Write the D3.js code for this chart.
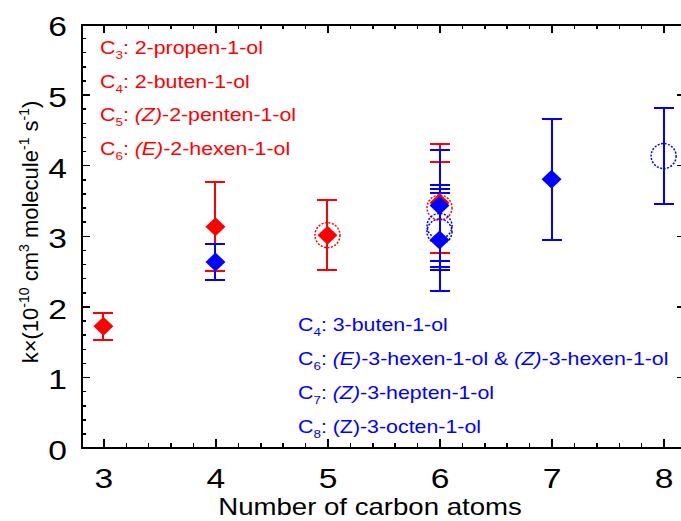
<!DOCTYPE html>
<html>
<head>
<meta charset="utf-8">
<script src="https://cdn.jsdelivr.net/npm/d3@7"></script>
<style>
  body { margin: 0; background: #fff; }
  svg { font-family: Arial, "Liberation Sans", sans-serif; }
</style>
</head>
<body>
<div id="chart"></div>
<script>
// x ticks and y ticks
var xTicks = [3, 4, 5, 6, 7, 8];
var yTicks = [0, 1, 2, 3, 4, 5, 6];

// red: 2-en-1-ols (diamonds and dotted circles)
var redDiamondX = [3, 4, 5, 6];
var redDiamondY = [1.72, 3.13, 3.01, 3.47];
var redDiamondErr = [0.19, 0.63, 0.50, 0.83];
var redCircleX = [5, 6];
var redCircleY = [3.01, 3.40];
var redCircleErr = [0.50, 0.64];

// blue: 3-en-1-ols
var blueDiamondX = [4, 6, 6, 7];
var blueDiamondY = [2.63, 3.43, 2.94, 3.80];
var blueDiamondErr = [0.25, 0.78, 0.72, 0.86];
var blueCircleX = [6, 6, 8];
var blueCircleY = [3.14, 3.06, 4.13];
var blueCircleErr = [0.58, 0.54, 0.68];

var redLabels = [
  ["3", [[": 2-propen-1-ol", false]]],
  ["4", [[": 2-buten-1-ol", false]]],
  ["5", [[": ", false], ["(Z)", true], ["-2-penten-1-ol", false]]],
  ["6", [[": ", false], ["(E)", true], ["-2-hexen-1-ol", false]]]
];
var blueLabels = [
  ["4", [[": 3-buten-1-ol", false]]],
  ["6", [[": ", false], ["(E)", true], ["-3-hexen-1-ol & ", false], ["(Z)", true], ["-3-hexen-1-ol", false]]],
  ["7", [[": ", false], ["(Z)", true], ["-3-hepten-1-ol", false]]],
  ["8", [[": (Z)-3-octen-1-ol", false]]]
];

var RED = "#ff0000", BLUE = "#0000ff";
var W = 681, H = 521;
var SX = 1.2; // text in the picture is a little wide
var svg = d3.select("#chart").append("svg").attr("width", W).attr("height", H);

var x = d3.scaleLinear().domain([2.8, 8.2]).range([81, 686]);
var y = d3.scaleLinear().domain([0, 6]).range([447.7, 24]);

var xMinor = d3.range(2.8, 8.21, 0.2).filter(function(v) { return Math.abs(v - Math.round(v)) > 0.01; });
var yMinor = d3.range(0, 6.01, 0.2).filter(function(v) { return Math.abs(v - Math.round(v)) > 0.01; });

function styleAxis(g) {
  g.selectAll("path").attr("stroke", "#000").attr("stroke-width", 2);
  g.selectAll("line").attr("stroke", "#000").attr("stroke-width", 1.5);
  g.selectAll("text").attr("fill", "#000").style("font-size", "28px");
}

// bottom
svg.append("g").attr("transform", "translate(0," + y(0) + ")")
  .call(d3.axisBottom(x).tickValues(xMinor).tickSize(-5).tickSizeOuter(0).tickFormat(""))
  .call(styleAxis);
svg.append("g").attr("transform", "translate(0," + y(0) + ")")
  .call(d3.axisBottom(x).tickValues(xTicks).tickSize(-9).tickSizeOuter(0).tickPadding(20).tickFormat(d3.format("d")))
  .call(styleAxis)
  .selectAll("text").attr("transform", "scale(" + SX + ",1)");
// top
svg.append("g").attr("transform", "translate(0," + y(6) + ")")
  .call(d3.axisTop(x).tickValues(xMinor).tickSize(-5).tickSizeOuter(0).tickFormat(""))
  .call(styleAxis);
svg.append("g").attr("transform", "translate(0," + y(6) + ")")
  .call(d3.axisTop(x).tickValues(xTicks).tickSize(-9).tickSizeOuter(0).tickFormat(""))
  .call(styleAxis);
// left
svg.append("g").attr("transform", "translate(" + x(2.8) + ",0)")
  .call(d3.axisLeft(y).tickValues(yMinor).tickSize(-5).tickSizeOuter(0).tickFormat(""))
  .call(styleAxis);
svg.append("g").attr("transform", "translate(" + x(2.8) + ",0)")
  .call(d3.axisLeft(y).tickValues(yTicks).tickSize(-9).tickSizeOuter(0).tickFormat(d3.format("d")))
  .call(styleAxis)
  .selectAll("text").attr("x", -14 / SX).attr("dy", "0.42em").attr("transform", "scale(" + SX + ",1)");
// right
svg.append("g").attr("transform", "translate(" + x(8.2) + ",0)")
  .call(d3.axisRight(y).tickValues(yMinor).tickSize(-5).tickSizeOuter(0).tickFormat(""))
  .call(styleAxis);
svg.append("g").attr("transform", "translate(" + x(8.2) + ",0)")
  .call(d3.axisRight(y).tickValues(yTicks).tickSize(-9).tickSizeOuter(0).tickFormat(""))
  .call(styleAxis);
svg.selectAll(".tick line, .domain").attr("shape-rendering", "crispEdges");

// axis titles
svg.append("text").attr("transform", "translate(370,515) scale(" + SX + ",1)").attr("text-anchor", "middle")
  .style("font-size", "23px").text("Number of carbon atoms");

var yl = svg.append("text").attr("transform", "translate(38,232) rotate(-90)")
  .attr("text-anchor", "middle").style("font-size", "22px");
[["k×(10", 0], ["-10", 1], [" cm", 0], ["3", 1], [" molecule", 0], ["-1", 1], [" s", 0], ["-1", 1], [")", 0]]
  .forEach(function(p, i, arr) {
    var prevSup = i > 0 && arr[i - 1][1];
    var t = yl.append("tspan").text(p[0]);
    if (p[1]) t.attr("dy", -9).style("font-size", "14px");
    else if (prevSup) t.attr("dy", 9);
  });

// data rows
function rows(xs, ys, es) {
  return xs.map(function(v, i) { return { x: v, y: ys[i], e: es[i] }; });
}

function errorBars(data, color) {
  var g = svg.append("g").attr("stroke", color).attr("stroke-width", 2).attr("shape-rendering", "crispEdges");
  g.selectAll("line.v").data(data).enter().append("line")
    .attr("x1", function(d) { return x(d.x); }).attr("x2", function(d) { return x(d.x); })
    .attr("y1", function(d) { return y(d.y + d.e); }).attr("y2", function(d) { return y(d.y - d.e); });
  [1, -1].forEach(function(s) {
    g.selectAll(null).data(data).enter().append("line")
      .attr("x1", function(d) { return x(d.x) - 10; }).attr("x2", function(d) { return x(d.x) + 10; })
      .attr("y1", function(d) { return y(d.y + s * d.e); }).attr("y2", function(d) { return y(d.y + s * d.e); });
  });
}

function circles(data, color) {
  svg.append("g").selectAll("circle").data(data).enter().append("circle")
    .attr("cx", function(d) { return x(d.x); }).attr("cy", function(d) { return y(d.y); })
    .attr("r", 12.5).attr("fill", "none").attr("stroke", color)
    .attr("stroke-width", 1.5).attr("stroke-dasharray", "2,1.5");
}

function diamonds(data, color) {
  svg.append("g").selectAll("path").data(data).enter().append("path")
    .attr("transform", function(d) { return "translate(" + x(d.x) + "," + y(d.y) + ")"; })
    .attr("d", "M0,-9.5L10,0L0,9.5L-10,0Z").attr("fill", color);
}

var redD = rows(redDiamondX, redDiamondY, redDiamondErr);
var redC = rows(redCircleX, redCircleY, redCircleErr);
var blueD = rows(blueDiamondX, blueDiamondY, blueDiamondErr);
var blueC = rows(blueCircleX, blueCircleY, blueCircleErr);

errorBars(redC, RED);
errorBars(redD, RED);
errorBars(blueC, BLUE);
errorBars(blueD, BLUE);
circles(redC, RED);
circles(blueC, BLUE);
diamonds(redD, RED);
diamonds(blueD, BLUE);

// legends
function legend(items, color, x0, y0, dy) {
  items.forEach(function(it, i) {
    var t = svg.append("text")
      .attr("transform", "translate(" + x0 + "," + (y0 + i * dy) + ") scale(1.22,1)")
      .attr("fill", color).style("font-size", "17.5px");
    t.append("tspan").text("C");
    t.append("tspan").text(it[0]).attr("dy", 5).style("font-size", "11px");
    it[1].forEach(function(p, j) {
      var s = t.append("tspan").text(p[0]);
      if (j === 0) s.attr("dy", -5);
      if (p[1]) s.style("font-style", "italic");
    });
  });
}
legend(redLabels, RED, 100, 54, 33.7);
legend(blueLabels, BLUE, 298, 331, 34);
</script>
</body>
</html>
